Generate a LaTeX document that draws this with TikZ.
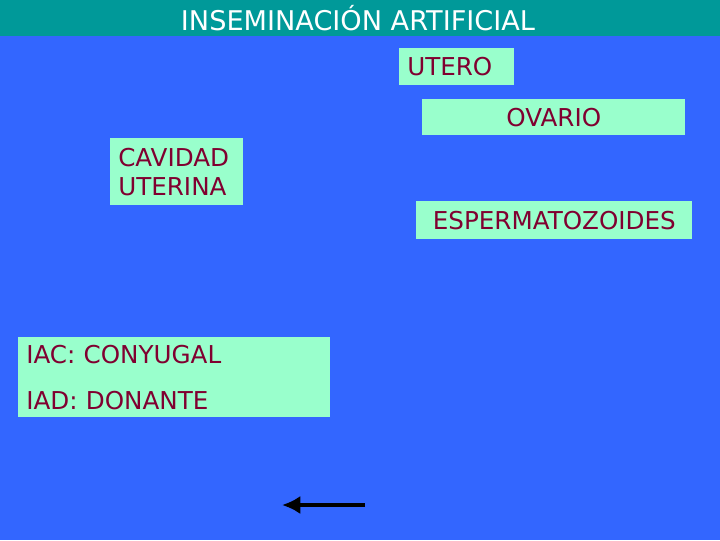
\documentclass[tikz,border=0pt]{standalone}
\usepackage{fontspec}
\setmainfont{DejaVu Sans}
\usetikzlibrary{arrows.meta}
\definecolor{fondo}{HTML}{3366FF}
\definecolor{barra}{HTML}{009999}
\definecolor{caja}{HTML}{99FFCC}
\definecolor{letra}{HTML}{800030}
\tikzset{
  caja/.style={fill=caja,text=letra,anchor=north west,inner ysep=0pt,inner xsep=0.2cm,
    font=\fontsize{17.5}{20.5}\selectfont},
}

\begin{document}
\begin{tikzpicture}[x=0.025cm,y=-0.025cm]
  % fondo y titulo
  \fill[fondo] (0,0) rectangle (720,540);
  \useasboundingbox (0,0) rectangle (720,540);
  \fill[barra] (0,0) rectangle (720,36);
  \node[text=white,font=\fontsize{19.3}{21}\selectfont] (titulo) at (358,18) {INSEMINACIÓN ARTIFICIAL};
  % cajas
  \node[caja,text width=2.475cm,minimum height=0.925cm,align=left] (utero) at (399,48) {UTERO};
  \node[caja,text width=6.175cm,minimum height=0.9cm,align=center] (ovario) at (422,99) {OVARIO};
  \node[caja,text width=2.925cm,minimum height=1.675cm,align=left] (cavidad) at (110,138) {CAVIDAD\\UTERINA};
  \node[caja,text width=6.5cm,minimum height=0.95cm,align=center] (esperma) at (416,201) {ESPERMATOZOIDES};
  \node[caja,text width=7.4cm,minimum height=2cm,align=left,font=\fontsize{17.5}{33}\selectfont] (iac) at (18,337) {IAC: CONYUGAL\\IAD: DONANTE};
  % flecha
  \coordinate (flechaA) at (365,505);
  \coordinate (flechaB) at (282,505);
  \draw[line width=2.8pt,-{Latex[length=13pt,width=13pt]}] (flechaA) -- (flechaB);
\end{tikzpicture}
\end{document}
